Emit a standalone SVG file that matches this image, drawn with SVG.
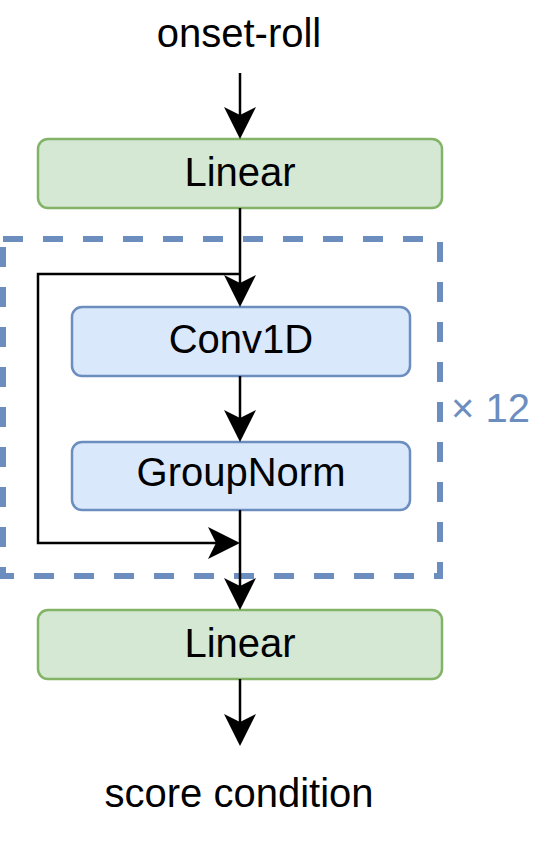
<svg xmlns="http://www.w3.org/2000/svg" width="548" height="859" viewBox="0 0 548 859">
  <style>
    .lbl { font-family: "Liberation Sans", Arial, Helvetica, sans-serif; font-size: 40px; fill: #000000; }
    .green { fill: #d5e8d4; stroke: #82b366; stroke-width: 2.5; }
    .blue { fill: #dae8fc; stroke: #6c8ebf; stroke-width: 2.5; }
    .edge { fill: none; stroke: #000000; stroke-width: 2.5; }
    .rep { fill: none; stroke: #6c8ebf; stroke-width: 6; stroke-dasharray: 20 20; }
  </style>
  <defs>
    <marker id="arrow" markerUnits="userSpaceOnUse" viewBox="-30 -17 36 34" markerWidth="36" markerHeight="34" refX="0" refY="0" orient="auto">
      <path d="M4,0 L-28,-16 L-20,0 L-28,16 Z" fill="#000000"/>
    </marker>
  </defs>

  <g id="repeat-group">
    <rect class="rep" x="3" y="239" width="437" height="337"/>
    <text x="451" y="422" class="lbl" style="fill:#6c8ebf">× 12</text>
  </g>

  <g id="input-label">
    <text x="239" y="47" class="lbl" text-anchor="middle">onset-roll</text>
  </g>

  <g id="linear-in">
    <rect class="green" x="38" y="139" width="404" height="69" rx="10" ry="10"/>
    <text x="240" y="186" class="lbl" text-anchor="middle">Linear</text>
  </g>

  <g id="conv1d">
    <rect class="blue" x="72" y="307" width="338" height="69" rx="10" ry="10"/>
    <text x="241" y="353" class="lbl" text-anchor="middle">Conv1D</text>
  </g>

  <g id="groupnorm">
    <rect class="blue" x="72" y="442" width="338" height="68" rx="10" ry="10"/>
    <text x="241" y="486" class="lbl" text-anchor="middle">GroupNorm</text>
  </g>

  <g id="linear-out">
    <rect class="green" x="38" y="610" width="404" height="69" rx="10" ry="10"/>
    <text x="240" y="657" class="lbl" text-anchor="middle">Linear</text>
  </g>

  <g id="output-label">
    <text x="239" y="807" class="lbl" text-anchor="middle">score condition</text>
  </g>

  <g id="connectors">
    <path class="edge" d="M240,73 V135" marker-end="url(#arrow)"/>
    <path class="edge" d="M240,208 V303" marker-end="url(#arrow)"/>
    <path class="edge" d="M240,376 V438" marker-end="url(#arrow)"/>
    <path class="edge" d="M240,510 V606" marker-end="url(#arrow)"/>
    <path class="edge" d="M240,679 V742" marker-end="url(#arrow)"/>
    <path class="edge" d="M240,274 H38 V543 H236" marker-end="url(#arrow)"/>
  </g>
</svg>
